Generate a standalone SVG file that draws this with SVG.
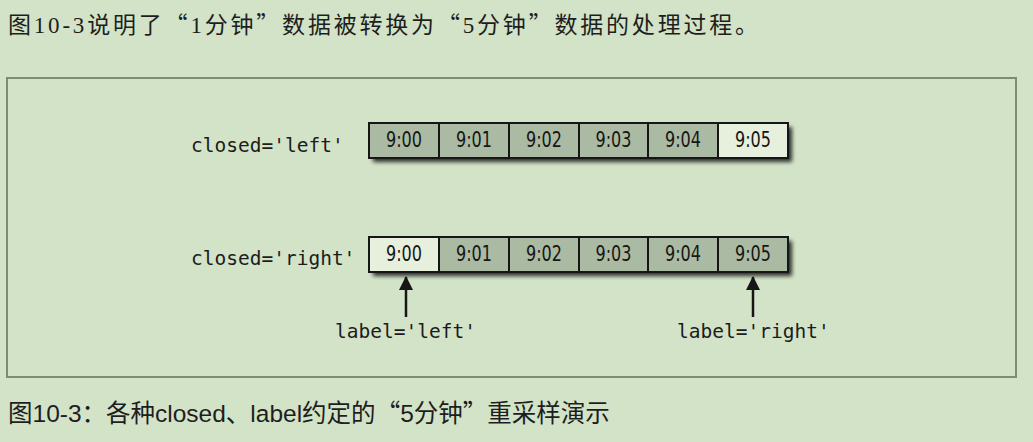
<svg xmlns="http://www.w3.org/2000/svg" width="1033" height="442" viewBox="0 0 1033 442">
<defs>
<style>
.mono{font-family:"DejaVu Sans Mono","Liberation Mono",monospace;font-size:19.5px;fill:#1c1c1c}
.cell{stroke:#161616;stroke-width:2}
.dark{fill:#abbaa2}
.light{fill:#e7efdd}
.ct{font-family:"DejaVu Sans Condensed","DejaVu Sans",sans-serif;font-size:20.5px;fill:#161616;text-anchor:middle}
.arrow{stroke:#161616;stroke-width:2.5;fill:none}
.q{font-family:"Noto Sans CJK SC",sans-serif}
</style>
<filter id="sh" x="-5%" y="-30%" width="110%" height="160%">
<feGaussianBlur in="SourceAlpha" stdDeviation="2"/>
<feOffset dx="4" dy="4"/>
<feComponentTransfer><feFuncA type="linear" slope="0.8"/></feComponentTransfer>
</filter>
<marker id="ah" viewBox="0 0 14 14" markerWidth="14" markerHeight="14" refX="13" refY="7" orient="auto" markerUnits="userSpaceOnUse">
<path d="M0,0 L14,7 L0,14 Z" fill="#161616"/>
</marker>
</defs>
<rect width="1033" height="442" fill="#d3e3c8"/>
<text x="8" y="33" font-family="'Liberation Serif','Noto Sans CJK SC',serif" font-size="23" fill="#1e1e1e" letter-spacing="2.8" xml:lang="zh-CN">图10-3说明了<tspan class="q">“</tspan>1分钟<tspan class="q">”</tspan>数据被转换为<tspan class="q">“</tspan>5分钟<tspan class="q">”</tspan>数据的处理过程。</text>
<rect x="7" y="78" width="1009" height="299" fill="none" stroke="#7d8b77" stroke-width="2"/>

<g id="row-closed-left">
<text class="mono" x="191" y="152">closed='left'</text>
<rect x="369" y="123" width="419" height="35" fill="#000" filter="url(#sh)"/>
<rect class="cell dark" x="369" y="123" width="70" height="35"/>
<rect class="cell dark" x="439" y="123" width="70" height="35"/>
<rect class="cell dark" x="509" y="123" width="70" height="35"/>
<rect class="cell dark" x="579" y="123" width="69" height="35"/>
<rect class="cell dark" x="648" y="123" width="70" height="35"/>
<rect class="cell light" x="718" y="123" width="70" height="35"/>
<text class="ct" x="404" y="147" textLength="36" lengthAdjust="spacingAndGlyphs">9:00</text>
<text class="ct" x="474" y="147" textLength="36" lengthAdjust="spacingAndGlyphs">9:01</text>
<text class="ct" x="544" y="147" textLength="36" lengthAdjust="spacingAndGlyphs">9:02</text>
<text class="ct" x="613.5" y="147" textLength="36" lengthAdjust="spacingAndGlyphs">9:03</text>
<text class="ct" x="683" y="147" textLength="36" lengthAdjust="spacingAndGlyphs">9:04</text>
<text class="ct" x="753" y="147" textLength="36" lengthAdjust="spacingAndGlyphs">9:05</text>
</g>

<g id="row-closed-right">
<text class="mono" x="191" y="265">closed='right'</text>
<rect x="369" y="237" width="419" height="35" fill="#000" filter="url(#sh)"/>
<rect class="cell light" x="369" y="237" width="70" height="35"/>
<rect class="cell dark" x="439" y="237" width="70" height="35"/>
<rect class="cell dark" x="509" y="237" width="70" height="35"/>
<rect class="cell dark" x="579" y="237" width="69" height="35"/>
<rect class="cell dark" x="648" y="237" width="70" height="35"/>
<rect class="cell dark" x="718" y="237" width="70" height="35"/>
<text class="ct" x="404" y="261" textLength="36" lengthAdjust="spacingAndGlyphs">9:00</text>
<text class="ct" x="474" y="261" textLength="36" lengthAdjust="spacingAndGlyphs">9:01</text>
<text class="ct" x="544" y="261" textLength="36" lengthAdjust="spacingAndGlyphs">9:02</text>
<text class="ct" x="613.5" y="261" textLength="36" lengthAdjust="spacingAndGlyphs">9:03</text>
<text class="ct" x="683" y="261" textLength="36" lengthAdjust="spacingAndGlyphs">9:04</text>
<text class="ct" x="753" y="261" textLength="36" lengthAdjust="spacingAndGlyphs">9:05</text>
</g>

<g id="connectors">
<line class="arrow" x1="406" y1="317" x2="406" y2="277" marker-end="url(#ah)"/>
<line class="arrow" x1="753" y1="317" x2="753" y2="277" marker-end="url(#ah)"/>
</g>

<g id="label-left"><text class="mono" x="335" y="338">label='left'</text></g>
<g id="label-right"><text class="mono" x="677" y="338">label='right'</text></g>

<text x="8" y="422" font-family="'Liberation Sans','Noto Sans CJK SC',sans-serif" font-size="24.5" fill="#1e1e1e" xml:lang="zh-CN">图10-3：各种closed、label约定的<tspan class="q">“</tspan>5分钟<tspan class="q">”</tspan>重采样演示</text>
</svg>
